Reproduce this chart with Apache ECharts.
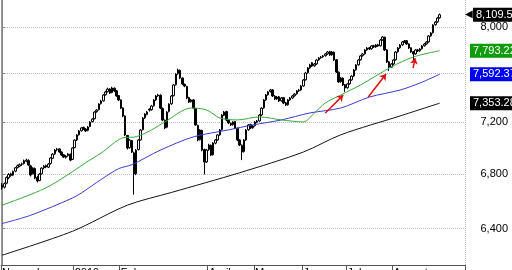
<!DOCTYPE html>
<html>
<head>
<meta charset="utf-8">
<script src="https://cdn.jsdelivr.net/npm/echarts@6/dist/echarts.min.js"></script>
<style>
  html, body { margin: 0; padding: 0; background: #fff; }
  #chart { width: 512px; height: 270px; }
</style>
</head>
<body>
<div id="chart"></div>
<script>
// months on the x axis and how many bars each one takes
const monthNames = ["November", "December", "2019", "February", "March", "April", "May", "June", "July", "August"];
const monthBars = [13, 20, 21, 19, 21, 21, 22, 20, 21, 33];
const shownMonths = ["November", "2019", "February", "April", "May", "June", "July", "August"];

// daily bars: [open, close, low, high]
const ohlc = [
  [6715,6698,6680,6730],[6700,6727,6690,6735],[6730,6772,6722,6780],[6770,6795,6760,6805],[6800,6787,6778,6808],
  [6790,6817,6785,6825],[6820,6846,6812,6852],[6848,6861,6840,6870],[6858,6869,6850,6878],[6872,6876,6860,6885],
  [6878,6899,6870,6908],[6895,6904,6888,6915],[6900,6866,6858,6910],[6860,6791,6780,6868],[6800,6843,6795,6850],
  [6840,6768,6760,6848],[6772,6746,6735,6785],[6750,6798,6745,6805],[6800,6843,6795,6850],[6845,6858,6835,6866],
  [6862,6851,6843,6870],[6850,6874,6845,6880],[6878,6920,6870,6926],[6918,6950,6912,6958],[6952,6981,6945,6990],
  [6985,6989,6972,6998],[6990,6966,6958,6995],[6965,6943,6936,6972],[6945,6927,6920,6950],[6925,6935,6915,6942],
  [6938,6950,6930,6958],[6948,6904,6895,6955],[6910,6997,6905,7002],[7000,7059,6995,7065],[7060,7099,7052,7105],
  [7100,7130,7094,7138],[7132,7154,7125,7160],[7158,7146,7138,7165],[7145,7130,7122,7152],[7135,7162,7128,7170],
  [7165,7201,7160,7208],[7205,7225,7198,7232],[7228,7281,7222,7288],[7285,7297,7276,7305],[7300,7346,7294,7352],
  [7350,7371,7342,7380],[7372,7420,7366,7428],[7422,7445,7415,7455],[7448,7469,7440,7480],[7470,7436,7428,7476],
  [7440,7478,7434,7488],[7476,7453,7445,7482],[7455,7412,7405,7460],[7415,7379,7370,7420],[7380,7313,7305,7385],
  [7315,7249,7240,7320],[7250,7099,7090,7255],[7095,6997,6985,7100],[7000,7059,6992,7065],[7055,6966,6958,7060],
  [6960,6798,6645,6968],[6800,6981,6790,6988],[6985,7059,6978,7065],[7060,7138,7055,7145],[7140,7233,7135,7240],
  [7235,7265,7226,7272],[7262,7281,7255,7290],[7305,7297,7285,7312],[7300,7330,7292,7338],[7332,7379,7325,7386],
  [7380,7412,7372,7420],[7414,7420,7405,7430],[7418,7313,7305,7425],[7310,7217,7208,7318],[7215,7154,7145,7222],
  [7160,7281,7152,7288],[7285,7346,7278,7352],[7348,7412,7340,7420],[7415,7503,7408,7510],[7505,7594,7498,7600],
  [7598,7628,7588,7640],[7625,7561,7552,7632],[7560,7511,7502,7566],[7508,7494,7485,7515],[7490,7395,7386,7496],
  [7398,7363,7355,7405],[7365,7379,7358,7388],[7380,7313,7305,7386],[7310,7178,7170,7315],[7175,7059,7050,7180],
  [7062,7138,7055,7145],[7135,6981,6972,7140],[6985,6889,6795,6992],[6890,6981,6882,6990],[6985,7020,6975,7030],
  [7018,6943,6935,7025],[6945,7036,6938,7042],[7035,7059,7026,7066],[7060,7099,7052,7106],[7100,7138,7092,7145],
  [7140,7257,7134,7264],[7255,7281,7248,7290],[7285,7217,7208,7292],[7215,7194,7186,7222],[7190,7178,7170,7198],
  [7180,7201,7172,7208],[7205,7154,7146,7210],[7152,7059,7050,7158],[7060,7020,7012,7066],[7018,6966,6904,7025],
  [6970,7059,6962,7066],[7060,7138,7052,7145],[7140,7178,7132,7185],[7180,7154,7146,7188],[7155,7170,7148,7178],
  [7172,7201,7165,7208],[7200,7209,7192,7218],[7210,7257,7204,7264],[7258,7313,7250,7320],[7315,7379,7308,7386],
  [7380,7420,7372,7428],[7422,7445,7414,7452],[7448,7461,7440,7470],[7462,7412,7404,7468],[7410,7387,7380,7418],
  [7388,7404,7380,7412],[7405,7371,7363,7412],[7372,7395,7365,7402],[7398,7354,7346,7404],[7356,7338,7330,7362],
  [7340,7379,7333,7386],[7380,7395,7372,7403],[7396,7412,7388,7420],[7414,7428,7406,7436],[7430,7453,7422,7460],
  [7455,7461,7446,7470],[7462,7494,7455,7502],[7495,7544,7488,7552],[7546,7603,7540,7610],[7605,7645,7598,7652],
  [7646,7671,7638,7680],[7690,7662,7655,7696],[7664,7679,7656,7688],[7680,7713,7672,7720],[7715,7730,7706,7738],
  [7732,7739,7724,7748],[7740,7748,7732,7756],[7750,7765,7742,7772],[7766,7782,7758,7790],[7784,7756,7748,7792],
  [7758,7782,7750,7790],[7780,7713,7705,7786],[7715,7611,7602,7720],[7610,7528,7520,7616],[7530,7561,7522,7568],
  [7560,7503,7495,7566],[7505,7478,7445,7510],[7480,7511,7472,7518],[7512,7544,7505,7552],[7545,7577,7538,7584],
  [7578,7628,7570,7636],[7630,7671,7622,7678],[7672,7713,7665,7720],[7715,7748,7708,7755],[7750,7765,7742,7772],
  [7766,7799,7758,7806],[7800,7816,7792,7824],[7818,7808,7800,7826],[7810,7834,7802,7842],[7836,7825,7817,7844],
  [7826,7842,7818,7850],[7844,7834,7826,7852],[7836,7886,7828,7894],[7888,7912,7880,7920],[7910,7799,7790,7915],
  [7800,7696,7688,7806],[7698,7654,7620,7705],[7652,7679,7645,7686],[7680,7713,7672,7720],[7715,7782,7708,7790],
  [7784,7816,7776,7824],[7818,7842,7810,7850],[7844,7868,7836,7876],[7870,7877,7860,7886],[7880,7851,7843,7886],
  [7852,7816,7808,7858],[7818,7782,7774,7822],[7784,7765,7713,7790],[7766,7799,7758,7806],[7800,7790,7782,7808],
  [7792,7808,7784,7815],[7810,7834,7802,7842],[7836,7851,7828,7858],[7852,7868,7845,7876],[7870,7921,7862,7928],
  [7922,7947,7914,7955],[7950,8018,7942,8025],[8020,8044,8012,8052],[8046,8080,8038,8090],[8082,8109.54,8074,8120]
];

// moving averages, read at a few bars: [bar index, value]
const maShort = [[0,6568],[13,6646],[22,6713],[32,6816],[38,6884],[45,6958],[55,7077],[61,7085],[68,7139],
  [74,7202],[86,7314],[93,7298],[99,7234],[107,7218],[117,7242],[127,7218],[137,7202],[142,7274],[147,7355],
  [154,7420],[163,7503],[177,7654],[187,7739],[199,7793.22]];
const maMid = [[0,6436],[13,6495],[32,6620],[36,6657],[45,6757],[53,6839],[59,6869],[72,6981],[87,7084],
  [103,7139],[114,7178],[127,7218],[140,7274],[154,7314],[167,7403],[181,7461],[190,7519],[199,7592.37]];
const maLong = [[0,6214],[32,6381],[57,6568],[77,6661],[108,6808],[137,6966],[154,7100],[181,7250],[199,7353.28]];

// red arrows: [from index, from value, to index, to value]
const arrows = [[147,7274,155.1,7419],[166.5,7403,174.6,7594],[186.9,7644,187.8,7730]];

const gridValues = [6400, 6800, 7200, 7600, 8000];
const labelValues = [6400, 6800, 7200, 8000];

let categories = [];
let monthStart = {};
let start = 0;
monthNames.forEach((name, m) => {
  if (shownMonths.indexOf(name) >= 0) monthStart[start] = name;
  for (let k = 0; k < monthBars[m]; k++) categories.push(name + " " + (k + 1));
  start += monthBars[m];
});
const isMonthStart = (i) => monthStart[i] !== undefined;

const fmt2 = (v) => v.toLocaleString("en-US", { minimumFractionDigits: 2, maximumFractionDigits: 2 });

const boxLine = (value, bg) => ({
  silent: true,
  symbol: ["none", "none"],
  lineStyle: { color: "rgba(0,0,0,0)", width: 0 },
  label: {
    position: "end",
    distance: 5,
    formatter: fmt2(value),
    color: "#fff",
    backgroundColor: bg,
    padding: [2, 3, 1, 3],
    fontFamily: "Liberation Sans",
    fontSize: 11
  },
  data: [{ yAxis: value }]
});

const chart = echarts.init(document.getElementById("chart"));
const yMin = 6147, yMax = 8243;
chart.setOption({
  animation: false,
  grid: { left: 1, right: 47, top: 0, bottom: 5, outerBoundsMode: "none", containLabel: false },
  xAxis: [
    {
      type: "category",
      data: categories,
      boundaryGap: true,
      axisLine: { lineStyle: { color: "#555" } },
      axisTick: { show: true, interval: (i) => isMonthStart(i), length: 8, lineStyle: { color: "#555" } },
      axisLabel: {
        interval: (i) => isMonthStart(i),
        formatter: (v, i) => monthStart[i] || "",
        align: "left",
        margin: 2,
        color: "#000",
        fontFamily: "Liberation Sans",
        fontSize: 11
      },
      splitLine: {
        show: true,
        interval: (i) => i === 33,
        lineStyle: { color: "#bbb", type: "dotted" }
      }
    },
    { type: "value", min: -0.5, max: 210.5, show: false }
  ],
  yAxis: [
    {
      type: "log",
      position: "right",
      min: yMin,
      max: yMax,
      axisLine: { show: true, lineStyle: { color: "#888" } },
      axisTick: { show: true, customValues: gridValues, length: 3, lineStyle: { color: "#888" } },
      axisLabel: {
        customValues: labelValues,
        formatter: (v) => Math.round(v).toLocaleString("en-US"),
        align: "right",
        margin: 43,
        color: "#000",
        fontFamily: "Liberation Sans",
        fontSize: 11
      },
      splitLine: { show: true, lineStyle: { color: "#bbb", type: "dotted" } }
    },
    {
      type: "log",
      position: "left",
      min: yMin,
      max: yMax,
      axisLine: { show: true, lineStyle: { color: "#999" } },
      axisTick: { show: false },
      axisLabel: { show: false },
      splitLine: { show: false }
    }
  ],
  series: [
    {
      type: "line",
      xAxisIndex: 1,
      data: maLong,
      smooth: 0.3,
      symbol: "none",
      clip: false,
      lineStyle: { color: "#111", width: 1 },
      markLine: boxLine(7353.28, "#000")
    },
    {
      type: "line",
      xAxisIndex: 1,
      data: maMid,
      smooth: 0.3,
      symbol: "none",
      clip: false,
      lineStyle: { color: "#3a3ad0", width: 1 },
      markLine: boxLine(7592.37, "#0000f0")
    },
    {
      type: "line",
      xAxisIndex: 1,
      data: maShort,
      smooth: 0.3,
      symbol: "none",
      clip: false,
      lineStyle: { color: "#3aa63a", width: 1 },
      markLine: boxLine(7793.22, "#0c9c0c")
    },
    {
      type: "candlestick",
      data: ohlc,
      barWidth: 2,
      clip: false,
      itemStyle: { color: "#fff", color0: "#000", borderColor: "#000", borderColor0: "#000", borderWidth: 1 },
      markLine: {
        silent: true,
        symbol: ["none", "none"],
        lineStyle: { color: "rgba(0,0,0,0)", width: 0 },
        label: {
          position: "end",
          distance: 0,
          formatter: "{a|\u25C0}{b|" + fmt2(8109.54) + "}",
          rich: {
            a: { color: "#000", fontSize: 10, padding: [0, 0, 0, 0] },
            b: {
              color: "#fff",
              backgroundColor: "#000",
              padding: [2, 3, 1, 3],
              fontFamily: "Liberation Sans",
              fontSize: 11
            }
          }
        },
        data: [{ yAxis: 8109.54 }]
      }
    },
    {
      type: "line",
      xAxisIndex: 1,
      data: [],
      clip: false,
      markLine: {
        silent: true,
        symbol: ["none", "arrow"],
        symbolSize: 6,
        lineStyle: { color: "#e01010", width: 1.5, type: "solid" },
        label: { show: false },
        data: arrows.map((a) => [{ coord: [a[0], a[1]] }, { coord: [a[2], a[3]] }])
      }
    }
  ]
});
</script>
</body>
</html>
